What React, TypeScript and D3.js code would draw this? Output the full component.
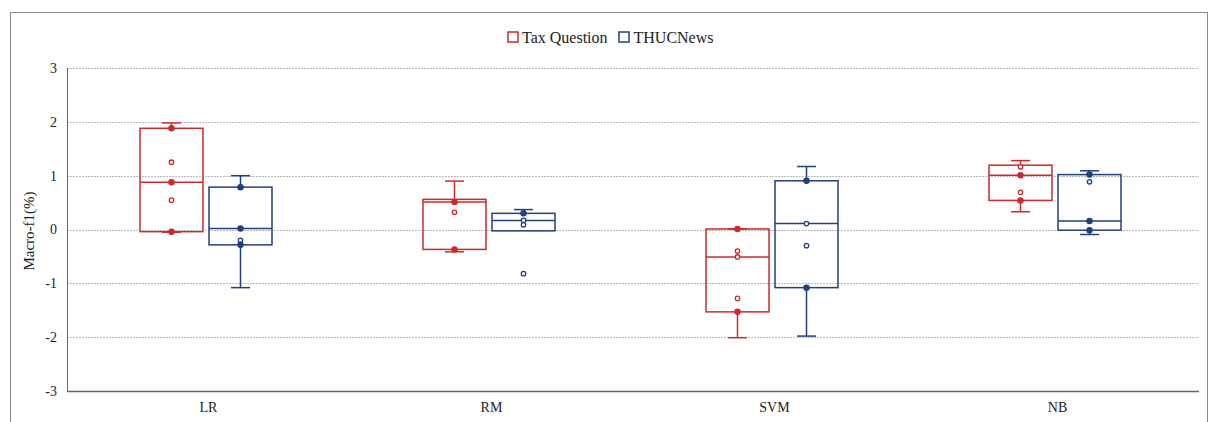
import React from 'react';
import * as d3 from 'd3';

const categories = ['LR', 'RM', 'SVM', 'NB'];
const series = ['Tax Question', 'THUCNews'];
const yTicks = [-3, -2, -1, 0, 1, 2, 3];

// Tax Question
const taxWhiskerHigh = [1.98, 0.9, 0.01, 1.28];
const taxQ3 = [1.88, 0.56, 0.01, 1.195];
const taxMedian = [0.88, 0.51, -0.51, 1.01];
const taxQ1 = [-0.04, -0.37, -1.53, 0.54];
const taxWhiskerLow = [-0.05, -0.415, -2.01, 0.33];
const taxPoints: [number, number][][] = [
  [[1.88, 1], [1.25, 0], [0.88, 1], [0.545, 0], [-0.04, 1]],
  [[0.51, 1], [0.32, 0], [-0.37, 1]],
  [[0.01, 1], [-0.4, 0], [-0.51, 0], [-1.28, 0], [-1.53, 1]],
  [[1.165, 0], [1.01, 1], [0.69, 0], [0.54, 1]],
];

// THUCNews
const thucWhiskerHigh = [1.0, 0.37, 1.17, 1.09];
const thucQ3 = [0.787, 0.3, 0.905, 1.02];
const thucMedian = [0.02, 0.167, 0.11, 0.16];
const thucQ1 = [-0.285, -0.025, -1.08, -0.013];
const thucWhiskerLow = [-1.08, NaN, -1.98, -0.093];
const thucPoints: [number, number][][] = [
  [[0.787, 1], [0.02, 1], [-0.2, 0], [-0.285, 1]],
  [[0.3, 1], [0.17, 0], [0.087, 0], [-0.82, 0]],
  [[0.905, 1], [0.11, 0], [-0.3, 0], [-1.08, 1]],
  [[1.02, 1], [0.886, 0], [0.16, 1], [-0.013, 1]],
];

const colors = ['#cc2a2c', '#243f7d'];

const W = 1212;
const H = 422;
const plotLeft = 67;
const plotRight = 1199;
const plotTop = 68;
const plotBottom = 391;

export default function App() {
  const x = d3.scaleBand<string>().domain(categories).range([plotLeft, plotRight]);
  const x1 = d3
    .scaleBand<string>()
    .domain(series)
    .range([-68.5, 63.5])
    .paddingInner(0.087);
  const y = d3.scaleLinear().domain([-3, 3]).range([plotBottom, plotTop]);
  const font = '"Liberation Serif", "Times New Roman", serif';

  const sets = [
    { hi: taxWhiskerHigh, q3: taxQ3, med: taxMedian, q1: taxQ1, lo: taxWhiskerLow, pts: taxPoints },
    { hi: thucWhiskerHigh, q3: thucQ3, med: thucMedian, q1: thucQ1, lo: thucWhiskerLow, pts: thucPoints },
  ];
  const capW = 19;

  return (
    <svg
      width={W}
      height={H}
      style={{ position: 'absolute', left: 0, top: 0, background: '#fff' }}
      fontFamily={font}
    >
      <rect x={10.5} y={12.5} width={1197} height={430} fill="#fff" stroke="#8a8a8a" strokeWidth={1} />

      {/* grid */}
      {yTicks.filter((t) => t > -3).map((t) => (
        <line
          key={'g' + t}
          x1={plotLeft}
          x2={plotRight}
          y1={Math.round(y(t)) + 0.5}
          y2={Math.round(y(t)) + 0.5}
          stroke="#a8a8a8"
          strokeWidth={0.8}
          strokeDasharray="2,1"
        />
      ))}
      {/* axes */}
      <line x1={plotLeft + 0.5} x2={plotLeft + 0.5} y1={plotTop} y2={plotBottom} stroke="#666" strokeWidth={1} />
      <line x1={plotLeft} x2={plotRight} y1={plotBottom + 0.5} y2={plotBottom + 0.5} stroke="#666" strokeWidth={1.5} />

      {yTicks.map((t) => (
        <text key={'t' + t} x={57} y={y(t)} dy="0.35em" textAnchor="end" fontSize={14} fill="#222">
          {t}
        </text>
      ))}
      {categories.map((c) => (
        <text key={'c' + c} x={(x(c) as number) + x.bandwidth() / 2} y={412} textAnchor="middle" fontSize={14} fill="#222">
          {c}
        </text>
      ))}
      <text transform="translate(34,231) rotate(-90)" textAnchor="middle" fontSize={15} fill="#222">
        Macro-f1(%)
      </text>

      {/* legend */}
      <g>
        <rect x={508} y={32} width={10} height={10} fill="none" stroke={colors[0]} strokeWidth={1.5} />
        <text x={522} y={43} fontSize={16} fill="#222">Tax Question</text>
        <rect x={619} y={32} width={10} height={10} fill="none" stroke={colors[1]} strokeWidth={1.5} />
        <text x={633.5} y={43} fontSize={16} fill="#222">THUCNews</text>
      </g>

      {/* boxes */}
      {sets.map((s, si) => (
        <g key={'s' + si} stroke={colors[si]} fill="none" strokeWidth={1.5}>
          {categories.map((c, ci) => {
            const bx = (x(c) as number) + x.bandwidth() / 2 + (x1(series[si]) as number);
            const bw = x1.bandwidth();
            const cx = bx + bw / 2;
            const hi = s.hi[ci];
            const lo = s.lo[ci];
            return (
              <g key={c}>
                <line x1={cx} x2={cx} y1={y(hi)} y2={y(s.q3[ci])} />
                <line x1={cx - capW / 2} x2={cx + capW / 2} y1={y(hi)} y2={y(hi)} />
                {!isNaN(lo) && (
                  <>
                    <line x1={cx} x2={cx} y1={y(s.q1[ci])} y2={y(lo)} />
                    <line x1={cx - capW / 2} x2={cx + capW / 2} y1={y(lo)} y2={y(lo)} />
                  </>
                )}
                <rect x={bx} y={y(s.q3[ci])} width={bw} height={y(s.q1[ci]) - y(s.q3[ci])} />
                <line x1={bx} x2={bx + bw} y1={y(s.med[ci])} y2={y(s.med[ci])} />
                {s.pts[ci].map(([v, f], pi) => (
                  <circle
                    key={pi}
                    cx={cx}
                    cy={y(v)}
                    r={f ? 2.6 : 2.2}
                    fill={f ? colors[si] : '#fff'}
                    strokeWidth={1.3}
                  />
                ))}
              </g>
            );
          })}
        </g>
      ))}
    </svg>
  );
}
